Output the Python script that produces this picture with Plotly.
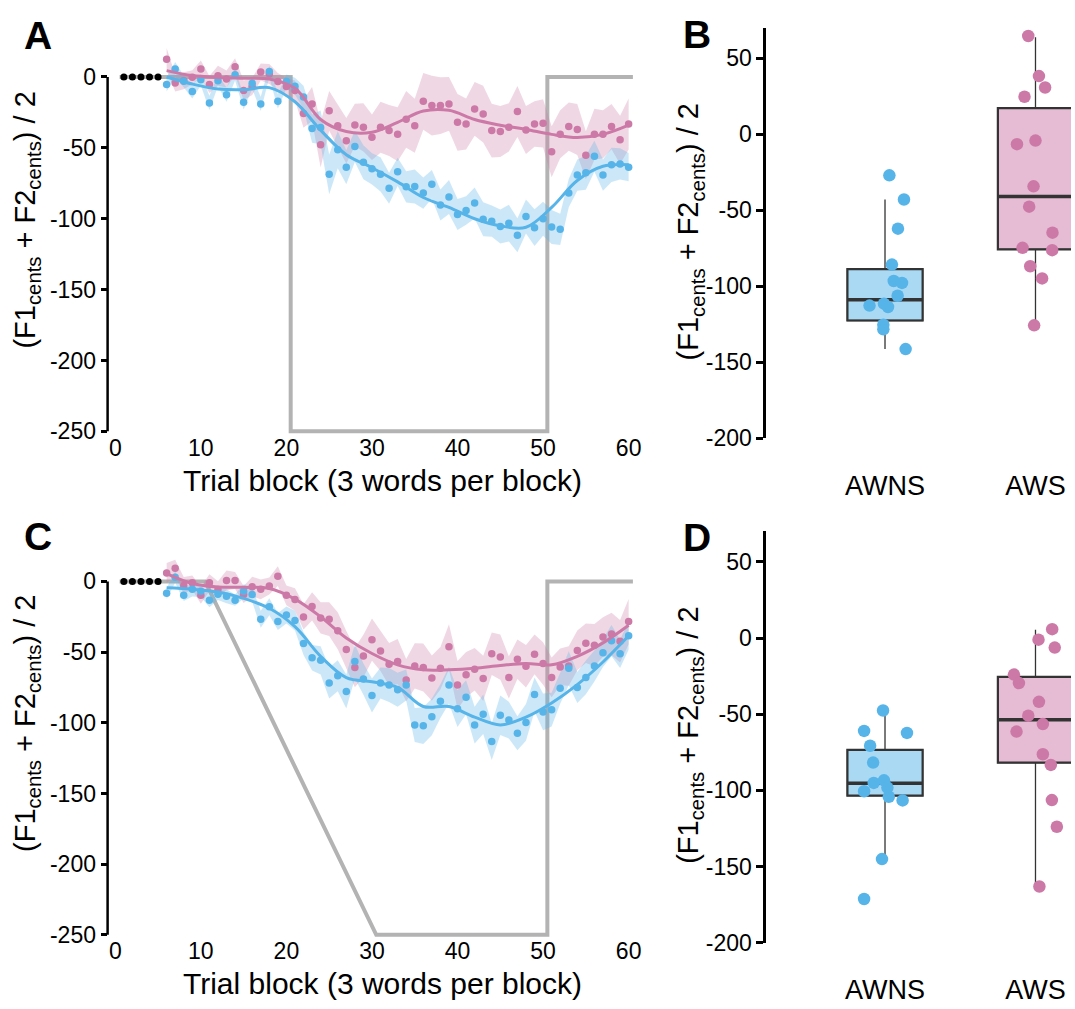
import plotly.graph_objects as go

W, H = 1075, 1009
BLUE = '#56B4E9'
PINK = '#CC79A7'
BLUE_FILL = 'rgba(86,180,233,0.30)'
PINK_FILL = 'rgba(204,121,167,0.30)'
BLUE_BOX = 'rgba(86,180,233,0.50)'
PINK_BOX = 'rgba(204,121,167,0.50)'
GREY = '#B3B3B3'
FONT = 'Liberation Sans, Arial, sans-serif'

# ---------------- data ----------------
blocks = list(range(6, 61))
baseline_x = [1, 2, 3, 4, 5]
baseline_y = [0, 0, 0, 0, 0]

# perturbation schedules
pertA_x = [0.5, 20.5, 20.5, 50.5, 50.5, 60.5]
pertA_y = [0, 0, -250, -250, 0, 0]
pertC_x = [0.5, 10.5, 30.5, 50.5, 50.5, 60.5]
pertC_y = [0, 0, -250, -250, 0, 0]

# Panel A block means
A_pink = [12.5, -4.2, -2.6, -0.2, 5.6, -5.3, 0.9, -1.4, 7.2, -9.5, -6.7, 3.5, 2.1, -3.2, -6.7, -9.5,
          -25.8, -19.0, -47.8, -23.9, -34.4, -45.0, -33.9, -35.5, -42.5, -35.5, -37.8, -40.4, -29.9,
          -34.4, -17.2, -20.2, -20.2, -19.0, -32.0, -33.2, -22.5, -26.2, -37.8, -38.5, -35.5, -24.4,
          -37.4, -33.2, -32.7, -52.7, -40.4, -35.0, -37.1, -55.2, -40.4, -40.4, -35.0, -44.3, -33.2]
A_blue = [-5.3, 5.6, -3.0, -10.2, -2.0, -18.3, -2.6, -12.5, 1.6, -17.9, -4.4, -19.0, 3.9, -17.2, -3.2,
          -6.5, -14.2, -36.4, -35.7, -68.7, -51.3, -63.6, -49.0, -60.1, -64.8, -68.7, -78.5, -66.9,
          -77.5, -77.3, -81.9, -75.7, -90.3, -84.7, -97.0, -94.2, -88.9, -100.3, -101.7, -105.4,
          -103.1, -111.7, -98.4, -106.3, -100.0, -105.8, -107.5, -81.9, -69.2, -67.5, -55.9, -69.2,
          -62.0, -61.3, -63.6]
A_pink_se = [8, 6, 6, 5, 6, 6, 7, 6, 6, 7, 6, 6, 7, 6, 6, 7,
             10, 12, 16, 14, 15, 16, 15, 17, 16, 18, 18, 19, 20, 19, 20, 21, 20, 19, 20, 18,
             19, 20, 19, 18, 17, 18, 17, 16, 17, 18, 17, 17, 18, 17, 18, 17, 16, 17, 18]
A_blue_se = [5, 5, 4, 5, 4, 5, 4, 5, 4, 5, 4, 5, 4, 5, 5, 6,
             8, 10, 12, 14, 13, 12, 11, 12, 11, 12, 11, 10, 11, 12, 11, 10, 11, 12, 11, 10,
             11, 12, 11, 12, 13, 12, 12, 13, 12, 12, 11, 10, 11, 12, 11, 11, 12, 11, 10]

# Panel C block means
C_pink = [6.0, 9.3, -2.8, -0.9, -9.8, -0.9, -5.8, 0.7, 0.7, -9.3, -3.7, -5.6, -3.3, 3.7, -9.8, -12.8,
          -25.1, -17.7, -25.8, -26.7, -34.9, -48.1, -60.9, -52.8, -41.2, -49.3, -58.6, -56.7, -69.8,
          -59.8, -60.9, -68.4, -61.4, -46.3, -73.3, -66.0, -62.1, -68.6, -51.2, -53.5, -67.9, -55.1,
          -60.0, -51.6, -58.1, -67.9, -60.5, -59.8, -48.8, -43.7, -45.1, -39.3, -37.2, -42.3, -28.4]
C_blue = [-8.4, 3.0, -9.8, -5.6, -7.0, -13.3, -9.1, -10.5, -13.3, -7.0, -9.3, -26.7, -17.9, -28.4,
          -23.7, -27.7, -44.0, -54.0, -55.8, -71.9, -66.7, -77.9, -56.7, -69.1, -80.7, -71.9, -73.3,
          -76.7, -73.3, -101.6, -102.1, -95.8, -84.7, -73.3, -90.0, -81.9, -101.6, -94.0, -113.3,
          -94.7, -98.1, -107.4, -99.8, -80.0, -92.3, -90.7, -75.6, -61.4, -75.1, -67.9, -59.8, -50.5,
          -41.9, -51.2, -38.4]
C_pink_se = [7, 6, 6, 5, 6, 6, 6, 7, 6, 6, 7, 7, 6, 7, 7, 8,
             9, 10, 11, 12, 13, 13, 14, 15, 15, 14, 15, 16, 15, 16, 17, 16, 15, 16, 17, 16,
             15, 16, 15, 16, 15, 14, 15, 14, 15, 14, 13, 14, 14, 14, 15, 14, 15, 15, 16]
C_blue_se = [4, 4, 4, 5, 4, 5, 4, 5, 4, 5, 5, 6, 6, 6, 6, 7,
             8, 9, 10, 11, 11, 12, 12, 11, 12, 11, 12, 12, 11, 12, 13, 13, 12, 13, 13, 12,
             13, 14, 13, 14, 13, 12, 13, 12, 13, 12, 11, 12, 11, 12, 11, 10, 11, 10, 10]

# smoothed group curves (read at every third block)
smooth_x = [6, 9, 12, 15, 18, 21, 24, 27, 30, 33, 36, 39, 42, 45, 48, 51, 54, 57, 60]
A_pink_fit = [4.5, 1.0, -0.3, -0.9, -1.5, -8.0, -30.0, -38.5, -39.0, -32.0, -24.0, -23.5, -30.0,
              -34.0, -37.0, -40.5, -42.7, -40.5, -34.0]
A_blue_fit = [0.0, -5.0, -8.5, -9.0, -7.5, -17.5, -37.5, -54.8, -64.0, -74.0, -85.0, -92.0, -100.0,
              -105.0, -106.0, -92.0, -73.0, -63.0, -62.0]
C_pink_fit = [5.5, -1.5, -4.0, -4.2, -5.0, -12.5, -25.0, -40.0, -51.0, -59.0, -62.5, -62.5, -61.5,
              -59.5, -58.0, -59.0, -53.0, -43.5, -31.0]
C_blue_fit = [-4.5, -5.5, -7.5, -12.0, -19.0, -32.0, -53.0, -68.0, -71.0, -75.0, -88.5, -88.5, -96.0,
              -101.5, -96.0, -86.0, -73.0, -57.0, -38.5]

# Panel B / D: per-participant values and box summaries
groups = ['AWNS', 'AWS']
B_awns = [-27.0, -42.9, -62.1, -85.7, -96.5, -97.8, -106.2, -112.7, -111.4, -113.6, -125.3, -128.3, -141.3, -200.2]
B_awns_jit = [0.029, 0.126, 0.086, 0.046, 0.058, 0.113, 0.084, -0.103, -0.007, 0.020, -0.011, -0.011, 0.137, 0.071]
B_aws = [64.7, 38.3, 30.8, 24.7, -6.5, -4.1, -34.2, -47.6, -64.7, -74.7, -76.2, -86.8, -94.8, -125.7]
B_aws_jit = [-0.048, 0.023, 0.064, -0.073, -0.123, 0.0, -0.013, -0.042, 0.113, -0.086, 0.111, -0.035, 0.044, -0.009]
D_awns = [-47.6, -61.0, -62.3, -70.7, -81.8, -95.1, -93.4, -98.2, -100.6, -104.2, -106.6, -145.1, -171.3]
D_awns_jit = [-0.013, -0.139, 0.146, -0.099, -0.079, -0.075, -0.007, 0.016, -0.139, 0.025, 0.117, -0.020, -0.139]
D_aws = [5.8, -1.1, -6.3, -24.0, -29.6, -41.9, -51.0, -56.5, -61.4, -76.3, -83.3, -106.4, -123.9, -163.1]
D_aws_jit = [0.111, 0.020, 0.128, -0.143, -0.110, 0.023, -0.048, 0.049, -0.126, 0.049, 0.102, 0.109, 0.142, 0.026]

# box stats: [lowerfence, q1, median, q3, upperfence]
B_awns_box = [-141.3, -122.5, -108.8, -88.7, -42.9]
B_aws_box = [-125.7, -75.7, -40.9, 17.3, 63.9]
D_awns_box = [-144.9, -103.4, -95.4, -73.5, -47.6]
D_aws_box = [-163.3, -81.8, -53.6, -25.5, 5.4]

time_ticks = [0, 10, 20, 30, 40, 50, 60]
time_yticks = [-250, -200, -150, -100, -50, 0]
box_yticks = [-200, -150, -100, -50, 0, 50]

# ---------------- figure ----------------
fig = go.Figure()


def ribbon(xa, ya, m, se, fill):
    up = [a + b for a, b in zip(m, se)]
    lo = [a - b for a, b in zip(m, se)]
    fig.add_trace(go.Scatter(x=blocks + blocks[::-1], y=up + lo[::-1], fill='toself',
                             fillcolor=fill, line=dict(width=0), mode='lines',
                             hoverinfo='skip', showlegend=False, xaxis=xa, yaxis=ya))


def time_panel(xa, ya, px, py, pink, blue, pse, bse, pfit, bfit):
    fig.add_trace(go.Scatter(x=px, y=py, mode='lines', line=dict(color=GREY, width=4),
                             showlegend=False, xaxis=xa, yaxis=ya))
    fig.add_trace(go.Scatter(x=baseline_x, y=baseline_y, mode='markers',
                             marker=dict(color='black', size=7), showlegend=False,
                             xaxis=xa, yaxis=ya, cliponaxis=False))
    ribbon(xa, ya, pink, pse, PINK_FILL)
    ribbon(xa, ya, blue, bse, BLUE_FILL)
    for vals, col in ((pink, PINK), (blue, BLUE)):
        fig.add_trace(go.Scatter(x=blocks, y=vals, mode='markers', marker=dict(color=col, size=7.5),
                                 showlegend=False, xaxis=xa, yaxis=ya, cliponaxis=False))
    for fit, col in ((pfit, PINK), (bfit, BLUE)):
        fig.add_trace(go.Scatter(x=smooth_x, y=fit, mode='lines',
                                 line=dict(color=col, width=3, shape='spline', smoothing=1.0),
                                 showlegend=False, xaxis=xa, yaxis=ya))


def box_panel(xa, ya, awns, awns_j, aws, aws_j, sa, sb):
    for i, (st, fill) in enumerate(((sa, BLUE_BOX), (sb, PINK_BOX))):
        lo, q1, med, q3, hi = st
        # filled box with thin whiskers
        fig.add_trace(go.Box(x=[i], lowerfence=[lo], q1=[q1], median=[med], q3=[q3],
                             upperfence=[hi], width=0.5, whiskerwidth=0, fillcolor=fill,
                             line=dict(color='#333333', width=1.3), boxpoints=False,
                             showlegend=False, xaxis=xa, yaxis=ya, hoverinfo='skip'))
        # thicker box outline
        fig.add_trace(go.Box(x=[i], lowerfence=[q1], q1=[q1], median=[med], q3=[q3],
                             upperfence=[q3], width=0.5, whiskerwidth=0,
                             fillcolor='rgba(0,0,0,0)',
                             line=dict(color='#333333', width=2.2), boxpoints=False,
                             showlegend=False, xaxis=xa, yaxis=ya, hoverinfo='skip'))
        # thick median bar
        fig.add_trace(go.Box(x=[i], lowerfence=[med], q1=[med], median=[med], q3=[med],
                             upperfence=[med], width=0.5, whiskerwidth=0,
                             fillcolor='rgba(0,0,0,0)',
                             line=dict(color='#333333', width=3.5), boxpoints=False,
                             showlegend=False, xaxis=xa, yaxis=ya, hoverinfo='skip'))
    fig.add_trace(go.Scatter(x=[0 + j for j in awns_j], y=awns, mode='markers',
                             marker=dict(color=BLUE, size=12.5), showlegend=False,
                             xaxis=xa, yaxis=ya, cliponaxis=False))
    fig.add_trace(go.Scatter(x=[1 + j for j in aws_j], y=aws, mode='markers',
                             marker=dict(color=PINK, size=12.5), showlegend=False,
                             xaxis=xa, yaxis=ya, cliponaxis=False))


time_panel('x', 'y', pertA_x, pertA_y, A_pink, A_blue, A_pink_se, A_blue_se, A_pink_fit, A_blue_fit)
box_panel('x2', 'y2', B_awns, B_awns_jit, B_aws, B_aws_jit, B_awns_box, B_aws_box)
time_panel('x3', 'y3', pertC_x, pertC_y, C_pink, C_blue, C_pink_se, C_blue_se, C_pink_fit, C_blue_fit)
box_panel('x4', 'y4', D_awns, D_awns_jit, D_aws, D_aws_jit, D_awns_box, D_aws_box)

tickfont = dict(family=FONT, size=23, color='black')
left_A, right_A = 108, 640
left_B = 769.3


def dom_y(top, bottom):
    return [1 - bottom / H, 1 - top / H]


def labels(vals):
    return [str(v) for v in vals]  # plain hyphen-minus, as in the reference


time_x = dict(range=[-0.9, 61.05], tickvals=time_ticks, ticktext=labels(time_ticks), showline=False,
              ticks='', ticklabelstandoff=-4, showgrid=False, zeroline=False,
              tickfont=dict(family=FONT, size=23, color='black'),
              domain=[left_A / W, right_A / W])
time_y = dict(range=[-253, 22], tickvals=time_yticks, ticktext=labels(time_yticks), ticks='outside',
              ticklen=6, tickwidth=2.5, tickcolor='black', showline=False, showgrid=False,
              zeroline=False, tickfont=tickfont)
box_x = dict(range=[-0.788, 1.236], tickvals=[0, 1], ticktext=groups, ticks='outside', ticklen=23,
             tickcolor='rgba(0,0,0,0)', showline=False, showgrid=False, zeroline=False,
             tickfont=dict(family=FONT, size=27, color='black'), domain=[left_B / W, 1.0])
box_y = dict(range=[-200, 70], tickvals=box_yticks, ticktext=labels(box_yticks), ticks='outside',
             ticklen=7, tickwidth=2.5, tickcolor='black', showline=True, linewidth=3,
             linecolor='black', showgrid=False, zeroline=False, tickfont=tickfont)

fig.update_layout(
    width=W, height=H, margin=dict(l=0, r=0, t=0, b=0),
    paper_bgcolor='white', plot_bgcolor='white', showlegend=False,
    font=dict(family=FONT, color='black'),
    xaxis=dict(**time_x, anchor='y'),
    yaxis=dict(**time_y, anchor='x', domain=dom_y(46.4, 441.3)),
    xaxis2=dict(**box_x, anchor='y2'),
    yaxis2=dict(**box_y, anchor='x2', domain=dom_y(28.3, 444)),
    xaxis3=dict(**time_x, anchor='y3'),
    yaxis3=dict(**time_y, anchor='x3', domain=dom_y(557.5, 951.3)),
    xaxis4=dict(**box_x, anchor='y4'),
    yaxis4=dict(**box_y, anchor='x4', domain=dom_y(538.3, 955)),
)

# y-axis lines of the time panels span only 0 .. -250
for yr in ('y', 'y3'):
    fig.add_shape(type='line', xref='paper', yref=yr, x0=left_A / W, x1=left_A / W, y0=-250, y1=0,
                  line=dict(color='black', width=2.5))

ytitle = '(F1<sub>cents</sub> + F2<sub>cents</sub>) / 2'
xtitle = 'Trial block (3 words per block)'
ann = []
for (x, y) in ((27, 222.5), (27, 732.5), (693, 235), (693, 745)):
    ann.append(dict(text=ytitle, x=x / W, y=1 - y / H, xref='paper', yref='paper', textangle=-90,
                    showarrow=False, xanchor='center', yanchor='middle',
                    font=dict(family=FONT, size=29, color='black')))
for (x, y) in ((384, 487), (384, 996)):
    ann.append(dict(text=xtitle, x=x / W, y=1 - y / H, xref='paper', yref='paper',
                    showarrow=False, xanchor='center', yanchor='middle',
                    font=dict(family=FONT, size=30, color='black')))
for (t, x, y) in (('A', 38, 36), ('B', 700, 35), ('C', 38, 543), ('D', 700, 545)):
    ann.append(dict(text='<b>' + t + '</b>', x=x / W, y=1 - y / H, xref='paper', yref='paper',
                    showarrow=False, xanchor='center', yanchor='middle',
                    font=dict(family=FONT, size=39, color='black')))
fig.update_layout(annotations=ann)

fig.write_html('out.html')
